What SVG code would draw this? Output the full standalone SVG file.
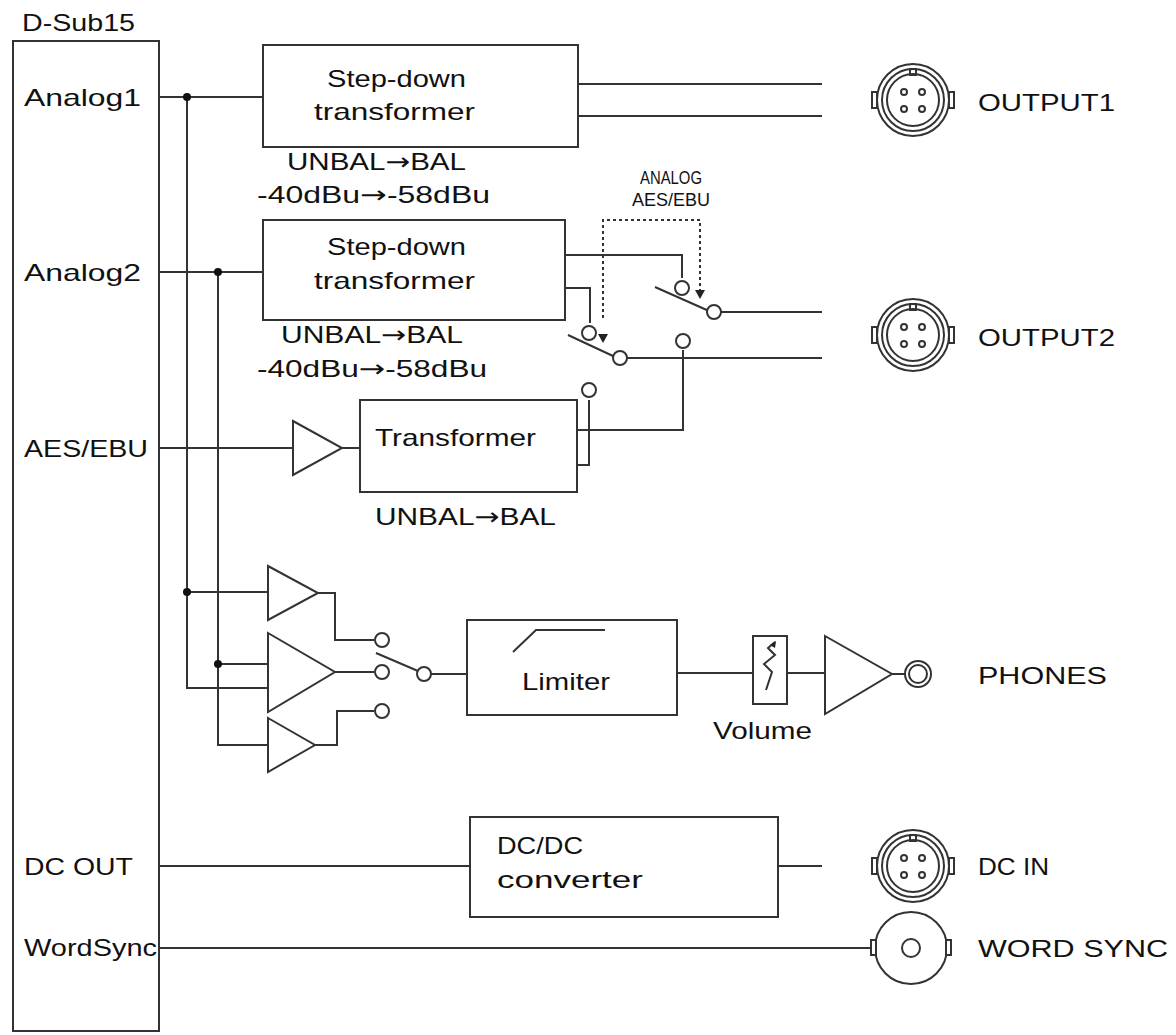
<svg xmlns="http://www.w3.org/2000/svg" width="1176" height="1035" viewBox="0 0 1176 1035">
<style>
text{font-family:"Liberation Sans",Arial,sans-serif;fill:#111;font-size:24px}
.a{font-family:"DejaVu Sans",sans-serif}
.s{fill:none;stroke:#333;stroke-width:2}
.w{fill:#fff;stroke:#333;stroke-width:2}
.d{fill:none;stroke:#333;stroke-width:2;stroke-dasharray:3 3}
.sm{font-size:18px}
</style>
<defs>
<g id="xlr">
<circle r="36" class="w"/><circle r="31" class="s"/><circle r="26" class="s" stroke-width="1.2"/>
<rect x="-41" y="-8" width="5" height="16" class="w"/><rect x="36" y="-8" width="5" height="16" class="w"/>
<rect x="-3" y="-31" width="6" height="6" class="s" stroke-width="1.5"/>
<circle cx="-9" cy="-8" r="3" class="s" stroke-width="1.2"/><circle cx="9" cy="-8" r="3" class="s" stroke-width="1.2"/>
<circle cx="-9" cy="9" r="3" class="s" stroke-width="1.2"/><circle cx="9" cy="9" r="3" class="s" stroke-width="1.2"/>
</g>
</defs>
<rect width="1176" height="1035" fill="#fff"/>
<g id="dsub"><rect x="13" y="41" width="146" height="990" class="s"/>
<text x="22" y="31" textLength="113" lengthAdjust="spacingAndGlyphs">D-Sub15</text>
<text x="24" y="106" textLength="117" lengthAdjust="spacingAndGlyphs">Analog1</text>
<text x="24" y="281" textLength="117" lengthAdjust="spacingAndGlyphs">Analog2</text>
<text x="24" y="457" textLength="124" lengthAdjust="spacingAndGlyphs">AES/EBU</text>
<text x="24" y="875" textLength="109" lengthAdjust="spacingAndGlyphs">DC OUT</text>
<text x="24" y="956" textLength="133" lengthAdjust="spacingAndGlyphs">WordSync</text></g>
<g id="connectors">
<path class="s" d="M159,97 H263 M187,97 V688 H268 M159,272 H263 M218,272 V745 H268 M187,592 H268 M218,664 H268
M578,84 H822 M578,116 H822
M565,255 H682 V278 M715,312 H822 M565,288 H590 V323 M625,358 H822
M683,350 V430 H577 M589,400 V465 H577
M159,448 H293 M342,448 H360
M318,593 H335 V640 H374 M335,672 H374 M315,745 H337 V711 H374 M430,674 H467 M677,673 H753 M787,673 H825 M892,674 H905
M159,866 H470 M778,866 H822 M159,948 H873"/>
<path class="s" d="M655,287 L709,311 M568,335 L613,356 M376,653 L418,671"/>
<path class="d" d="M603,318 V220 H700 V292" />
<path d="M598,334 h10 l-5,9z M695,290 h10 l-5,9z" fill="#222"/>
<circle cx="187" cy="97" r="4" fill="#111"/><circle cx="218" cy="272" r="4" fill="#111"/>
<circle cx="187" cy="592" r="4" fill="#111"/><circle cx="218" cy="664" r="4" fill="#111"/>
</g>
<g id="sw" class="w">
<circle cx="682" cy="288" r="7"/><circle cx="714" cy="312" r="7"/>
<circle cx="589" cy="333" r="7"/><circle cx="620" cy="358" r="7"/>
<circle cx="683" cy="341" r="7"/><circle cx="589" cy="390" r="7"/>
<circle cx="382" cy="640" r="7"/><circle cx="382" cy="672" r="7"/><circle cx="382" cy="711" r="7"/><circle cx="424" cy="674" r="7"/>
</g>
<text class="sm" x="640" y="184" textLength="62" lengthAdjust="spacingAndGlyphs">ANALOG</text>
<text class="sm" x="632" y="206" textLength="78" lengthAdjust="spacingAndGlyphs">AES/EBU</text>
<g id="sdt1"><rect x="263" y="45" width="315" height="102" class="w"/>
<text x="327" y="87" textLength="139" lengthAdjust="spacingAndGlyphs">Step-down</text>
<text x="314" y="120" textLength="161" lengthAdjust="spacingAndGlyphs">transformer</text>
<text x="287" y="170" textLength="179" lengthAdjust="spacingAndGlyphs">UNBAL<tspan class="a">→</tspan>BAL</text>
<text x="257" y="203" textLength="233" lengthAdjust="spacingAndGlyphs">-40dBu<tspan class="a">→</tspan>-58dBu</text></g>
<g id="sdt2"><rect x="263" y="220" width="302" height="100" class="w"/>
<text x="327" y="255" textLength="139" lengthAdjust="spacingAndGlyphs">Step-down</text>
<text x="314" y="289" textLength="161" lengthAdjust="spacingAndGlyphs">transformer</text>
<text x="281" y="343" textLength="182" lengthAdjust="spacingAndGlyphs">UNBAL<tspan class="a">→</tspan>BAL</text>
<text x="257" y="377" textLength="230" lengthAdjust="spacingAndGlyphs">-40dBu<tspan class="a">→</tspan>-58dBu</text></g>
<g id="tr"><path class="w" d="M293,421 L342,448 L293,475 Z"/><rect x="360" y="400" width="217" height="92" class="w"/>
<text x="375" y="446" textLength="161" lengthAdjust="spacingAndGlyphs">Transformer</text>
<text x="375" y="525" textLength="181" lengthAdjust="spacingAndGlyphs">UNBAL<tspan class="a">→</tspan>BAL</text></g>
<g id="amps"><path class="w" d="M268,566 L318,593 L268,620 Z M268,633 L335,672 L268,712 Z M268,718 L315,745 L268,772 Z"/></g>
<g id="lim"><rect x="467" y="620" width="210" height="95" class="w"/><path class="s" d="M513,652 L536,630 H605"/>
<text x="522" y="690" textLength="88" lengthAdjust="spacingAndGlyphs">Limiter</text></g>
<g id="vol"><rect x="753" y="636" width="34" height="68" class="w"/><path class="s" stroke-width="1.3" d="M766,690 L772,672 L764,664 L775,655 L768,648 L775,642"/><path d="M770,645 l6,-4 -1,7z" fill="#222"/>
<text x="713" y="739" textLength="99" lengthAdjust="spacingAndGlyphs">Volume</text></g>
<g id="phamp"><path class="w" d="M825,636 L892,674 L825,714 Z"/><circle cx="918" cy="674" r="13" class="w"/><circle cx="918" cy="674" r="9" class="s" stroke-width="1.3"/></g>
<g id="dcdc"><rect x="470" y="817" width="308" height="100" class="w"/>
<text x="497" y="854" textLength="86" lengthAdjust="spacingAndGlyphs">DC/DC</text>
<text x="497" y="888" textLength="146" lengthAdjust="spacingAndGlyphs">converter</text></g>
<g id="o1"><use href="#xlr" x="913" y="100"/><text x="978" y="111" textLength="137" lengthAdjust="spacingAndGlyphs">OUTPUT1</text></g>
<g id="o2"><use href="#xlr" x="913" y="335"/><text x="978" y="346" textLength="137" lengthAdjust="spacingAndGlyphs">OUTPUT2</text></g>
<g id="ph"><text x="978" y="684" textLength="129" lengthAdjust="spacingAndGlyphs">PHONES</text></g>
<g id="dcin"><use href="#xlr" x="913" y="866"/><text x="978" y="875" textLength="71" lengthAdjust="spacingAndGlyphs">DC IN</text></g>
<g id="ws"><circle cx="911" cy="948" r="36" class="w"/><circle cx="911" cy="948" r="9" class="s" stroke-width="1.3"/>
<rect x="871" y="940" width="5" height="15" class="w"/><rect x="946" y="940" width="5" height="15" class="w"/>
<text x="978" y="957" textLength="190" lengthAdjust="spacingAndGlyphs">WORD SYNC</text></g>
</svg>
